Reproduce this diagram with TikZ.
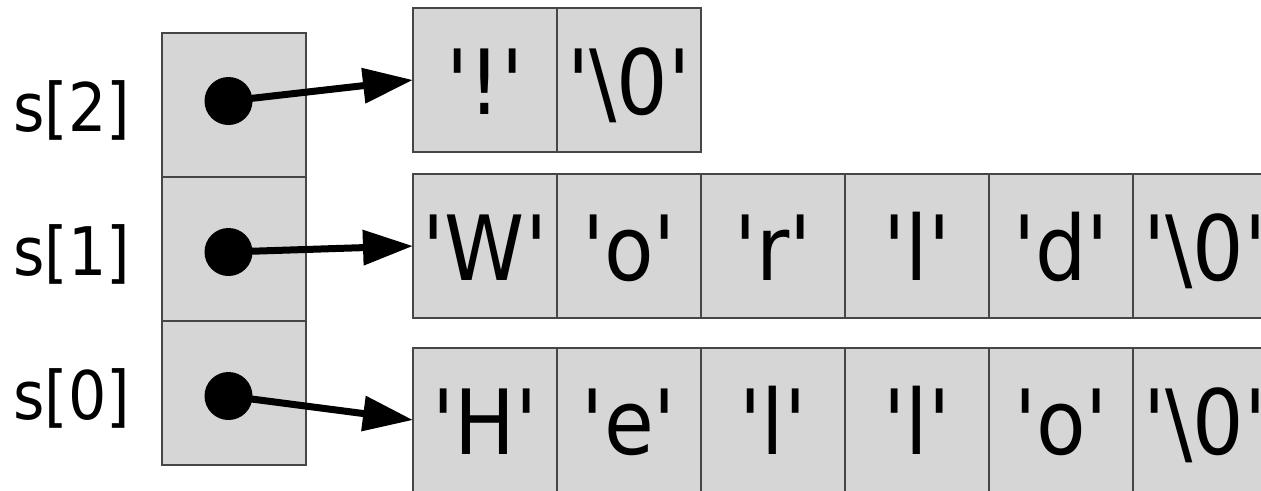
\documentclass[tikz,border=0pt]{standalone}
\usepackage{fontspec}
\setmainfont{DejaVu Sans Condensed}[Ligatures=TeXOff]
\usetikzlibrary{arrows.meta}
\definecolor{cellfill}{RGB}{214,214,214}
\definecolor{cellline}{RGB}{70,70,70}
\tikzset{
  cellbox/.style={rectangle, draw=cellline, fill=cellfill, line width=1.5pt,
    minimum width=144pt, minimum height=144pt, inner sep=0pt, outer sep=0pt,
    anchor=north west},
  chr/.style={cellbox, text height=106pt, text depth=38pt,
    font=\fontsize{90}{100}\selectfont},
  lbl/.style={anchor=base, inner sep=0pt, font=\fontsize{67}{80}\selectfont},
  dot/.style={circle, fill=black, draw=none, minimum size=48pt, inner sep=0pt},
  ptr/.style={line width=7pt, -{Triangle[length=50pt, width=34pt]}}
}
\begin{document}
\begin{tikzpicture}[x=1pt,y=-1pt]
\useasboundingbox (0,0) rectangle (1261,490);
\clip (0,0) rectangle (1261,490);
% pointer array
\node[cellbox] (p2) at (162,33) {};
\node[cellbox] (p1) at (162,177) {};
\node[cellbox] (p0) at (162,321) {};
% labels
\node[lbl] (l2) at (71.5,131) {s[2]};
\node[lbl] (l1) at (71.5,275) {s[1]};
\node[lbl] (l0) at (71.5,419) {s[0]};
% string "!"
\node[chr] (a2-1) at (413,8) {'!'};
\node[chr] (a2-2) at (557,8) {'\textbackslash 0'};
% string "World"
\node[chr] (a1-1) at (413,174) {'W'};
\node[chr] (a1-2) at (557,174) {'o'};
\node[chr] (a1-3) at (701,174) {'r'};
\node[chr] (a1-4) at (845,174) {'l'};
\node[chr] (a1-5) at (989,174) {'d'};
\node[chr] (a1-6) at (1133,174) {'\textbackslash 0'};
% string "Hello"
\node[chr] (a0-1) at (413,348) {'H'};
\node[chr] (a0-2) at (557,348) {'e'};
\node[chr] (a0-3) at (701,348) {'l'};
\node[chr] (a0-4) at (845,348) {'l'};
\node[chr] (a0-5) at (989,348) {'o'};
\node[chr] (a0-6) at (1133,348) {'\textbackslash 0'};
% dots
\node[dot] (d2) at (228.5,101) {};
\node[dot] (d1) at (228.5,252) {};
\node[dot] (d0) at (228.5,396) {};
% pointers
\draw[ptr] (d2.center) -- (a2-1.west);
\draw[ptr] (d1.center) -- (a1-1.west);
\draw[ptr] (d0.center) -- (a0-1.west);
\end{tikzpicture}
\end{document}
